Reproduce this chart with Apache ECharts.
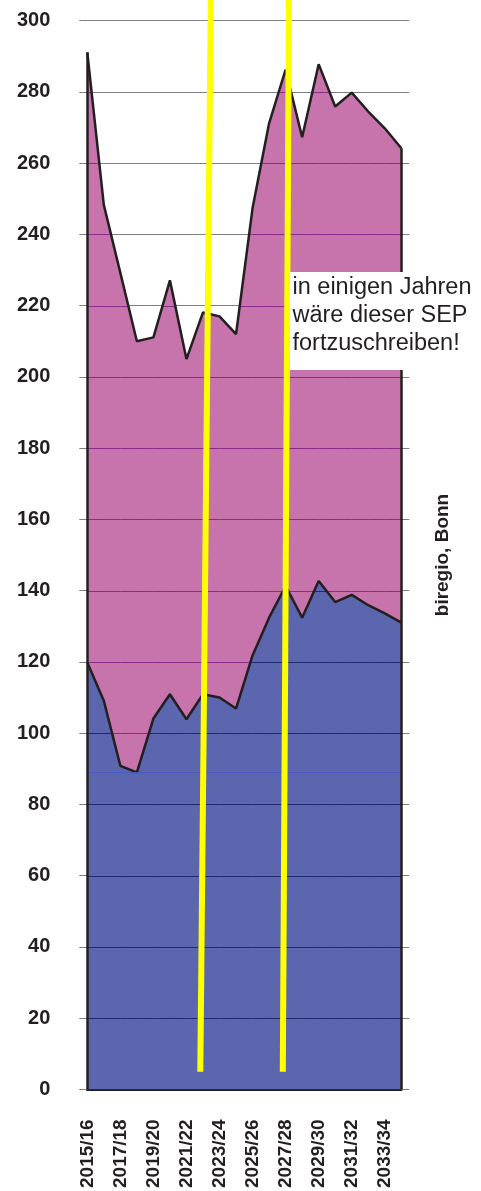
<!DOCTYPE html>
<html><head><meta charset="utf-8">
<script src="https://cdn.jsdelivr.net/npm/echarts@6/dist/echarts.min.js"></script>
<style>html,body{margin:0;padding:0;background:#fff}#c{width:481px;height:1191px}</style>
</head><body><div id="c"></div>
<script>
const categories = ['2015/16','2016/17','2017/18','2018/19','2019/20','2020/21','2021/22','2022/23','2023/24','2024/25','2025/26','2026/27','2027/28','2028/29','2029/30','2030/31','2031/32','2032/33','2033/34','2034/35'];
const totalValues = [291.1, 248.3, 229.2, 210.0, 211.1, 227.1, 205.0, 218.1, 217.0, 212.0, 247.4, 271.2, 286.3, 267.3, 287.8, 275.9, 279.8, 274.5, 269.8, 264.2];
const lowerValues = [119.8, 109.1, 90.8, 89.0, 104.1, 110.9, 103.9, 110.9, 110.0, 106.9, 121.8, 132.4, 141.3, 132.4, 142.7, 136.8, 138.8, 135.9, 133.6, 131.0];
const yTicks = [0,20,40,60,80,100,120,140,160,180,200,220,240,260,280,300];
const noteText = 'in einigen Jahren\nwäre dieser SEP\nfortzuschreiben!';
const sourceText = 'biregio, Bonn';

const labelFont = '"Liberation Sans", Arial, Helvetica, sans-serif';
const PINK = '#c674ab', BLUE = '#5c66ae', INK = '#231f20';
const GRID_GRAY = '#7f7f7f', GRID_PINK = '#8b2a8b', GRID_BLUE = '#1f2a6c';

function posRange(a0, a1){
  if (a0 > 0 && a1 > 0) return [0,1];
  if (a0 <= 0 && a1 <= 0) return null;
  const t = a0 / (a0 - a1);
  return a0 > 0 ? [0, t] : [t, 1];
}
function inter(r1, r2){
  if (!r1 || !r2) return null;
  const lo = Math.max(r1[0], r2[0]), hi = Math.min(r1[1], r2[1]);
  return hi > lo ? [lo, hi] : null;
}
function renderGrid(params, api){
  const children = [];
  yTicks.forEach(function(v){
    if (v <= 0) return;
    for (let i = 0; i < categories.length - 1; i++){
      const p0 = api.coord([i, v]), p1 = api.coord([i+1, v]);
      const y = Math.round(p0[1]) + 0.5;
      const blue = posRange(lowerValues[i]-v, lowerValues[i+1]-v);
      const pink = inter(posRange(totalValues[i]-v, totalValues[i+1]-v), posRange(v-lowerValues[i], v-lowerValues[i+1]));
      [[blue, GRID_BLUE],[pink, GRID_PINK]].forEach(function(pair){
        const r = pair[0]; if (!r) return;
        children.push({type:'line', shape:{x1:p0[0]+r[0]*(p1[0]-p0[0]), y1:y, x2:p0[0]+r[1]*(p1[0]-p0[0]), y2:y},
          style:{stroke:pair[1], lineWidth:1}});
      });
    }
  });
  return {type:'group', children: children};
}

const last = categories.length - 1;
const chart = echarts.init(document.getElementById('c'), null, {renderer:'canvas'});
chart.setOption({
  animation:false,
  backgroundColor:'#ffffff',
  grid:{left:87.3, right:79.7, top:20.7, bottom:100.3, containLabel:false},
  xAxis:{type:'category', data:categories, boundaryGap:false,
    axisLine:{lineStyle:{color:INK, width:3}},
    axisTick:{show:false},
    splitLine:{show:false},
    axisLabel:{interval:1, hideOverlap:false, rotate:90, margin:30, fontFamily:labelFont, fontWeight:'bold', fontSize:19, color:INK, padding:[0,0,7,0]}},
  yAxis:[
    {type:'value', min:0, max:300, interval:20,
      axisLine:{show:false},
      axisTick:{show:true, length:8, lineStyle:{color:GRID_GRAY}},
      axisLabel:{margin:37, fontFamily:labelFont, fontWeight:'bold', fontSize:20, color:INK, padding:[0,0,5,0]},
      splitLine:{show:true, lineStyle:{color:GRID_GRAY, width:1}}},
    {type:'value', min:0, max:300, interval:20, position:'right',
      axisLine:{show:false},
      axisTick:{show:true, length:8, lineStyle:{color:GRID_GRAY}},
      axisLabel:{show:false}, splitLine:{show:false},
      name:sourceText, nameLocation:'middle', nameRotate:90, nameGap:32,
      nameTextStyle:{fontFamily:labelFont, fontWeight:'bold', fontSize:19, color:INK}}
  ],
  series:[
    {type:'line', data:totalValues, symbol:'none', z:1, lineStyle:{width:0}, areaStyle:{color:PINK, opacity:1}},
    {type:'line', data:lowerValues, symbol:'none', z:2, lineStyle:{width:0}, areaStyle:{color:BLUE, opacity:1},
      markLine:{silent:true, symbol:['none','none'], label:{show:false}, lineStyle:{color:'#4a58c6', width:1, type:'solid'}, data:[{type:'min'}]}},
    {type:'custom', data:[0], z:3, renderItem:renderGrid, silent:true},
    {type:'line', data:totalValues, symbol:'none', z:4, lineStyle:{color:INK, width:2.5},
      markLine:{silent:true, symbol:['none','none'], label:{show:false}, lineStyle:{color:INK, width:2.5, type:'solid'},
        data:[[{coord:[categories[0],0]},{coord:[categories[0],totalValues[0]]}],[{coord:[categories[last],0]},{coord:[categories[last],totalValues[last]]}]]}},
    {type:'line', data:lowerValues, symbol:'none', z:4, lineStyle:{color:INK, width:2.5}}
  ],
  graphic:[
    {type:'line', z:100, shape:{x1:210.8, y1:0, x2:200.3, y2:1071.7}, style:{stroke:'#ffff00', lineWidth:6}},
    {type:'line', z:100, shape:{x1:289, y1:0, x2:282.8, y2:1071.7}, style:{stroke:'#ffff00', lineWidth:6}},
    {type:'rect', z:101, shape:{x:290, y:272, width:191, height:98}, style:{fill:'#ffffff'}},
    {type:'text', z:102, x:292.5, y:274, style:{text:noteText, font:'23.5px "Liberation Sans", Arial, sans-serif', fill:INK, lineHeight:28, verticalAlign:'top', align:'left'}}
  ]
});
</script></body></html>
